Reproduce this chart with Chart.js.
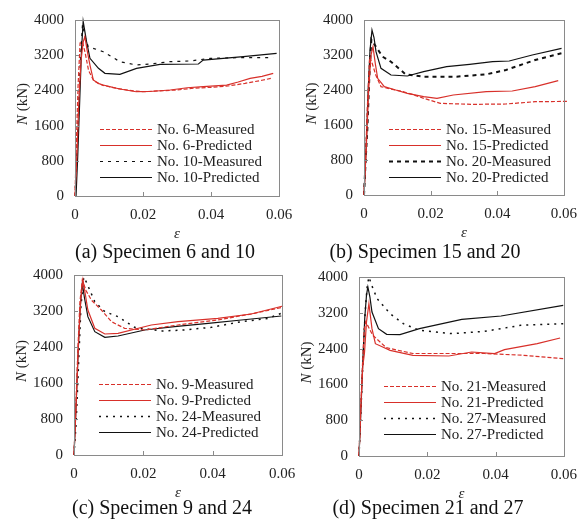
<!DOCTYPE html>
<html>
<head>
<meta charset="utf-8">
<script src="https://cdn.jsdelivr.net/npm/chart.js@4"></script>
<style>
  body { margin: 0; background: #fff; }
  #wrap { position: relative; width: 587px; height: 520px; overflow: hidden; }
  canvas { position: absolute; }
  .cap { position: absolute; font: 20px "Liberation Serif", serif; color: #111; white-space: nowrap; transform: translateX(-50%); }
</style>
</head>
<body>
<div id="wrap">
  <canvas id="cA" width="310" height="255" style="left:0;top:0"></canvas>
  <canvas id="cB" width="304" height="255" style="left:283px;top:0"></canvas>
  <canvas id="cC" width="310" height="265" style="left:0;top:255px"></canvas>
  <canvas id="cD" width="304" height="265" style="left:283px;top:255px"></canvas>
  <div class="cap" style="left:165px;top:240px">(a) Specimen 6 and 10</div>
  <div class="cap" style="left:425px;top:240px">(b) Specimen 15 and 20</div>
  <div class="cap" style="left:162px;top:496px">(c) Specimen 9 and 24</div>
  <div class="cap" style="left:428px;top:496px">(d) Specimen 21 and 27</div>
</div>
<script>
// axis ticks
const xTicks = [0, 0.02, 0.04, 0.06];
const xTickLabels = ['0', '0.02', '0.04', '0.06'];
const yTicks = [0, 800, 1600, 2400, 3200, 4000];
const yTickLabels = ['0', '800', '1600', '2400', '3200', '4000'];

// (a) specimen 6 and 10
const eps6m = [0, 0.0004, 0.0009, 0.0015, 0.0022, 0.003, 0.004, 0.0055, 0.008, 0.012, 0.016, 0.02, 0.025, 0.03, 0.035, 0.04, 0.045, 0.05, 0.055, 0.058];
const n6m   = [0, 1200, 2500, 3480, 3500, 3250, 2850, 2620, 2520, 2450, 2400, 2370, 2390, 2410, 2450, 2470, 2500, 2560, 2630, 2680];
const eps6p = [0, 0.0006, 0.0012, 0.0018, 0.0024, 0.0029, 0.0036, 0.0044, 0.0054, 0.0068, 0.0083, 0.0105, 0.0132, 0.018, 0.022, 0.028, 0.033, 0.0377, 0.0446, 0.048, 0.0515, 0.055, 0.0583];
const n6p   = [0, 1000, 2300, 3100, 3500, 3620, 3300, 2977, 2636, 2560, 2522, 2480, 2432, 2370, 2375, 2409, 2460, 2484, 2522, 2590, 2674, 2720, 2788];
const eps10m = [0, 0.0005, 0.001, 0.0016, 0.0022, 0.003, 0.0039, 0.0083, 0.0132, 0.018, 0.022, 0.028, 0.034, 0.0397, 0.0476, 0.0583];
const n10m   = [0, 900, 1900, 3100, 3900, 3600, 3394, 3280, 3053, 2977, 3000, 3053, 3070, 3128, 3143, 3143];
const eps10p = [0.0003, 0.0008, 0.0014, 0.0019, 0.0024, 0.0034, 0.0044, 0.0069, 0.0088, 0.0132, 0.0181, 0.025, 0.0363, 0.0377, 0.0495, 0.0593];
const n10p   = [0, 900, 2200, 3300, 3970, 3507, 3129, 2902, 2788, 2766, 2902, 2993, 3000, 3090, 3166, 3242];

// (b) specimen 15 and 20
const eps15m = [0, 0.0005, 0.001, 0.0017, 0.0025, 0.0035, 0.0051, 0.008, 0.011, 0.0145, 0.0179, 0.0229, 0.0327, 0.0426, 0.0514, 0.0613];
const n15m   = [0, 900, 2000, 3150, 3000, 2750, 2476, 2420, 2377, 2300, 2210, 2095, 2072, 2080, 2133, 2140];
const eps15p = [0, 0.0007, 0.0014, 0.0021, 0.0027, 0.0034, 0.0041, 0.0061, 0.0095, 0.013, 0.0179, 0.0219, 0.0268, 0.0367, 0.0445, 0.0514, 0.0583];
const n15p   = [0, 1100, 2400, 3200, 3390, 3000, 2667, 2476, 2400, 2324, 2248, 2210, 2286, 2362, 2377, 2476, 2613];
const eps20m = [0, 0.0005, 0.001, 0.0016, 0.0022, 0.0035, 0.0056, 0.0081, 0.0125, 0.0179, 0.0278, 0.0367, 0.0426, 0.0514, 0.0593];
const n20m   = [0, 800, 1500, 2700, 3550, 3400, 3161, 3047, 2758, 2705, 2705, 2758, 2857, 3086, 3239];
const eps20p = [0, 0.0006, 0.0012, 0.0018, 0.0024, 0.003, 0.0036, 0.0051, 0.0081, 0.013, 0.0179, 0.0248, 0.0317, 0.0386, 0.0436, 0.0505, 0.0593];
const n20p   = [0, 1000, 2300, 3300, 3771, 3600, 3276, 2895, 2743, 2720, 2819, 2933, 2987, 3047, 3063, 3200, 3353];

// (c) specimen 9 and 24
const eps9m = [0, 0.0005, 0.0011, 0.0017, 0.0024, 0.0035, 0.005, 0.0079, 0.0108, 0.0146, 0.0204, 0.03, 0.0415, 0.052, 0.06];
const n9m   = [0, 1000, 2300, 3400, 3890, 3650, 3444, 3222, 2963, 2815, 2778, 2889, 3000, 3148, 3280];
const eps9p = [0, 0.0006, 0.0013, 0.002, 0.0026, 0.0032, 0.004, 0.006, 0.0089, 0.0127, 0.0223, 0.03, 0.0415, 0.0511, 0.0603];
const n9p   = [0, 1100, 2500, 3500, 3889, 3600, 3222, 2815, 2689, 2704, 2889, 2963, 3037, 3133, 3311];
const eps24m = [0, 0.0006, 0.0012, 0.002, 0.0028, 0.0035, 0.006, 0.0089, 0.0127, 0.0175, 0.0252, 0.0319, 0.0396, 0.0483, 0.056, 0.0598];
const n24m   = [0, 700, 1800, 3300, 3950, 3852, 3407, 3185, 3074, 2837, 2756, 2778, 2837, 2963, 3037, 3148];
const eps24p = [0, 0.0005, 0.0012, 0.0018, 0.0024, 0.003, 0.004, 0.006, 0.0089, 0.0127, 0.0204, 0.029, 0.0387, 0.0483, 0.0598];
const n24p   = [0, 900, 2300, 3300, 3815, 3500, 3074, 2741, 2615, 2644, 2778, 2852, 2926, 3000, 3089];

// (d) specimen 21 and 27
const eps21m = [0, 0.0005, 0.001, 0.0015, 0.002, 0.003, 0.004, 0.008, 0.0158, 0.0263, 0.0368, 0.0483, 0.0598];
const n21m   = [0, 1000, 2000, 2800, 3000, 2850, 2700, 2420, 2290, 2290, 2290, 2250, 2175];
const eps21p = [0, 0.0006, 0.0011, 0.0016, 0.0022, 0.0029, 0.0038, 0.0048, 0.0091, 0.0158, 0.0263, 0.033, 0.0397, 0.0426, 0.0522, 0.0589];
const n21p   = [0, 1200, 2000, 2300, 3000, 3404, 2845, 2510, 2361, 2250, 2235, 2324, 2287, 2376, 2510, 2637];
const eps27m = [0, 0.0005, 0.0012, 0.0018, 0.0024, 0.0029, 0.0038, 0.0053, 0.0091, 0.013, 0.0177, 0.0273, 0.0368, 0.0474, 0.0598];
const n27m   = [0, 900, 2200, 3200, 3800, 4000, 3800, 3516, 3180, 2957, 2808, 2734, 2786, 2920, 2957];
const eps27p = [0, 0.0005, 0.0011, 0.0017, 0.0022, 0.0026, 0.0032, 0.0038, 0.0057, 0.0081, 0.012, 0.0177, 0.0301, 0.0416, 0.0598];
const n27p   = [0, 900, 2100, 3100, 3600, 3777, 3550, 3218, 2845, 2719, 2711, 2845, 3054, 3128, 3367];

const RED = '#d8302a';
const BLACK = '#111111';
const FRAME = '#8a8a8a';
const FONT = '"Liberation Serif", serif';

function pts(xs, ys) {
    return xs.map((x, i) => ({x: x, y: ys[i]}));
}

function series(label, xs, ys, color, dash, width) {
    return {
        label: label,
        data: pts(xs, ys),
        borderColor: color,
        borderDash: dash,
        borderWidth: width || 1.2,
        pointRadius: 0,
        tension: 0,
        fill: false,
        clip: false
    };
}

// frame, inner tick marks, axis titles and the legend inside the plot
const decor = {
    id: 'decor',
    afterDraw(chart) {
        const ctx = chart.ctx;
        const a = chart.chartArea;
        const xs = chart.scales.x, ys = chart.scales.y;
        ctx.save();
        ctx.strokeStyle = FRAME;
        ctx.lineWidth = 1;
        ctx.setLineDash([]);
        ctx.strokeRect(Math.round(a.left) + 0.5, Math.round(a.top) + 0.5, Math.round(a.right - a.left), Math.round(a.bottom - a.top));
        ctx.beginPath();
        xTicks.forEach(v => {
            const px = Math.round(xs.getPixelForValue(v)) + 0.5;
            ctx.moveTo(px, a.bottom);
            ctx.lineTo(px, a.bottom - 4);
        });
        yTicks.forEach(v => {
            const py = Math.round(ys.getPixelForValue(v)) + 0.5;
            ctx.moveTo(a.left, py);
            ctx.lineTo(a.left + 4, py);
        });
        ctx.stroke();

        // x title
        ctx.fillStyle = '#222';
        ctx.font = 'italic 15px ' + FONT;
        ctx.textAlign = 'center';
        ctx.textBaseline = 'middle';
        ctx.fillText('ε', (a.left + a.right) / 2, a.bottom + 38);

        // y title, italic N
        ctx.translate(a.left - 52, (a.top + a.bottom) / 2 - 4);
        ctx.rotate(-Math.PI / 2);
        ctx.font = 'italic 15px ' + FONT;
        const wN = ctx.measureText('N').width;
        ctx.font = '15px ' + FONT;
        const wRest = ctx.measureText(' (kN)').width;
        const x0 = -(wN + wRest) / 2;
        ctx.textAlign = 'left';
        ctx.font = 'italic 15px ' + FONT;
        ctx.fillText('N', x0, 0);
        ctx.font = '15px ' + FONT;
        ctx.fillText(' (kN)', x0 + wN, 0);
        ctx.setTransform(1, 0, 0, 1, 0, 0);

        // legend
        const rows = [109, 125, 141, 157];
        chart.data.datasets.forEach((ds, i) => {
            const y = Math.round(a.top + rows[i]) + 0.5;
            ctx.strokeStyle = ds.borderColor;
            ctx.lineWidth = ds.borderWidth;
            ctx.setLineDash(ds.borderDash || []);
            ctx.beginPath();
            ctx.moveTo(a.left + 25, y);
            ctx.lineTo(a.left + 77, y);
            ctx.stroke();
            ctx.fillStyle = '#222';
            ctx.font = '15px ' + FONT;
            ctx.textAlign = 'left';
            ctx.textBaseline = 'middle';
            ctx.fillText(ds.label, a.left + 82, y + 1);
        });
        ctx.restore();
    }
};

function makePanel(id, datasets, box) {
    const canvas = document.getElementById(id);
    return new Chart(canvas.getContext('2d'), {
        type: 'line',
        data: {datasets: datasets},
        options: {
            responsive: false,
            animation: false,
            layout: {padding: {left: 0, right: canvas.width - box.right, top: box.top, bottom: 0}},
            plugins: {legend: {display: false}, tooltip: {enabled: false}},
            scales: {
                x: {
                    type: 'linear', min: 0, max: 0.06,
                    grid: {display: false, drawTicks: false},
                    border: {display: false},
                    afterBuildTicks: s => { s.ticks = xTicks.map(v => ({value: v})); },
                    afterFit: s => { s.height = canvas.height - box.bottom; },
                    ticks: {
                        padding: 10, color: '#222', font: {family: FONT, size: 15},
                        maxRotation: 0, autoSkip: false,
                        callback: (v, i) => xTickLabels[i]
                    }
                },
                y: {
                    type: 'linear', min: 0, max: 4000,
                    grid: {display: false, drawTicks: false},
                    border: {display: false},
                    afterBuildTicks: s => { s.ticks = yTicks.map(v => ({value: v})); },
                    afterFit: s => { s.width = box.left; },
                    ticks: {
                        padding: 11, color: '#222', font: {family: FONT, size: 15},
                        autoSkip: false,
                        callback: (v, i) => yTickLabels[i]
                    }
                }
            }
        },
        plugins: [decor]
    });
}

makePanel('cA', [
    series('No. 6-Measured', eps6m, n6m, RED, [4, 2]),
    series('No. 6-Predicted', eps6p, n6p, RED, []),
    series('No. 10-Measured', eps10m, n10m, BLACK, [3, 5]),
    series('No. 10-Predicted', eps10p, n10p, BLACK, [])
], {left: 75, right: 279, top: 20, bottom: 196});

makePanel('cB', [
    series('No. 15-Measured', eps15m, n15m, RED, [4, 2]),
    series('No. 15-Predicted', eps15p, n15p, RED, []),
    series('No. 20-Measured', eps20m, n20m, BLACK, [4, 4], 2),
    series('No. 20-Predicted', eps20p, n20p, BLACK, [])
], {left: 81, right: 284, top: 20, bottom: 195});

makePanel('cC', [
    series('No. 9-Measured', eps9m, n9m, RED, [4, 2]),
    series('No. 9-Predicted', eps9p, n9p, RED, []),
    series('No. 24-Measured', eps24m, n24m, BLACK, [2, 5], 1.5),
    series('No. 24-Predicted', eps24p, n24p, BLACK, [])
], {left: 74, right: 282, top: 20, bottom: 200});

makePanel('cD', [
    series('No. 21-Measured', eps21m, n21m, RED, [4, 2]),
    series('No. 21-Predicted', eps21p, n21p, RED, []),
    series('No. 27-Measured', eps27m, n27m, BLACK, [2, 5], 1.5),
    series('No. 27-Predicted', eps27p, n27p, BLACK, [])
], {left: 76, right: 285, top: 22, bottom: 201});
</script>
</body>
</html>
